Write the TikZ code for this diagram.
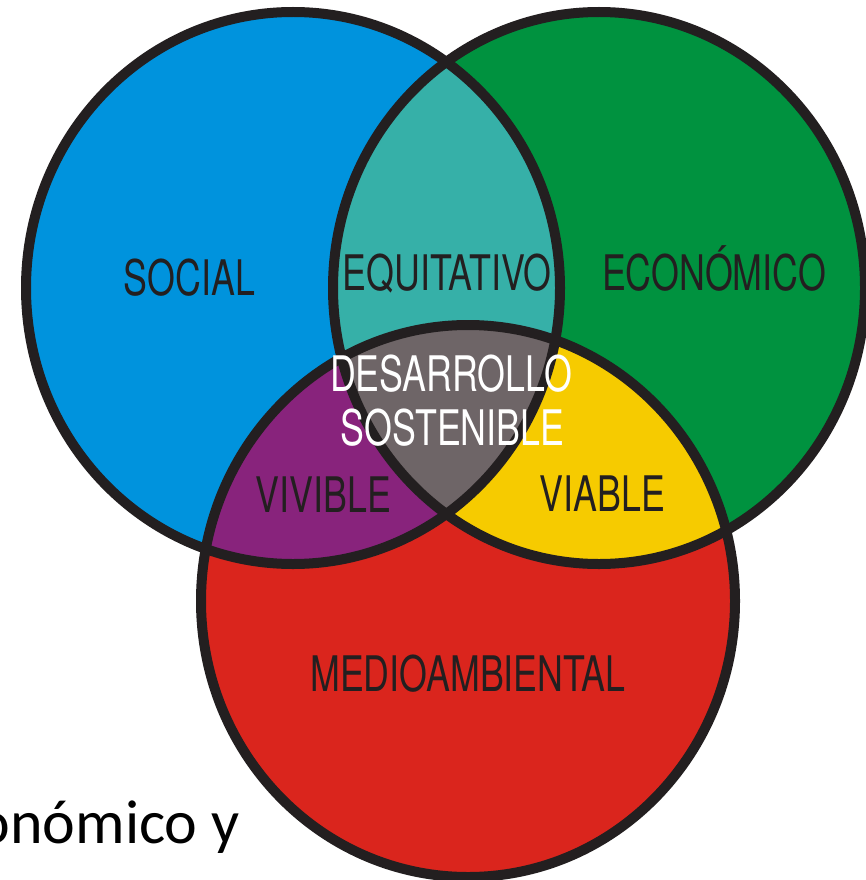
\documentclass[tikz,border=0pt]{standalone}
\usepackage{fontspec}
\setmainfont{TeX Gyre Heros}
\newfontfamily\bodyfont{Carlito}
\definecolor{cblue}{HTML}{0093DD}
\definecolor{cgreen}{HTML}{00923F}
\definecolor{cred}{HTML}{DA251D}
\definecolor{cteal}{HTML}{36B0A8}
\definecolor{cpurple}{HTML}{88237C}
\definecolor{cyellow}{HTML}{F6CB00}
\definecolor{cgray}{HTML}{6E6567}
\definecolor{cink}{HTML}{231F20}
\tikzset{
  lbl/.style={anchor=base, inner sep=0pt, text=cink, font=\fontsize{49}{50}\selectfont},
  wlbl/.style={lbl, text=white},
  ring/.style={draw=cink, line width=10pt}
}
\newcommand{\cond}[1]{\scalebox{0.73}[1]{#1}}
\begin{document}
\begin{tikzpicture}[x=1pt,y=-1pt]
\useasboundingbox (0,0) rectangle (865,880);
\fill[white] (0,0) rectangle (865,880);
\def\Lc{(293,288) ellipse [x radius=267, y radius=276]}
\def\Rc{(599,288) ellipse [x radius=266, y radius=276]}
\def\Bc{(468,601) ellipse [x radius=267, y radius=276]}
\fill[cblue] \Lc;
\fill[cgreen] \Rc;
\fill[cred] \Bc;
\begin{scope}
  \clip \Lc;
  \fill[cteal] \Rc;
  \fill[cpurple] \Bc;
  \clip \Rc;
  \fill[cgray] \Bc;
\end{scope}
\begin{scope}
  \clip \Rc;
  \clip \Bc;
  \fill[cyellow] (0,0) rectangle (865,880);
  \clip \Lc;
  \fill[cgray] (0,0) rectangle (865,880);
\end{scope}
\draw[ring] \Lc;
\draw[ring] \Rc;
\draw[ring] \Bc;
\node[lbl] (social) at (189.5,295) {\cond{SOCIAL}};
\node[lbl] (equi) at (447,290) {\cond{EQUITATIVO}};
\node[lbl] (econ) at (714,290) {\cond{ECONÓMICO}};
\node[wlbl] (des) at (451,391) {\cond{DESARROLLO}};
\node[wlbl] (sos) at (452.5,445) {\cond{SOSTENIBLE}};
\node[lbl] (viv) at (323.5,512) {\cond{VIVIBLE}};
\node[lbl] (via) at (602.5,511) {\cond{VIABLE}};
\node[lbl] (medio) at (468,691) {\cond{MEDIOAMBIENTAL}};
\node[anchor=base east, inner sep=0pt, text=black, font=\bodyfont\fontsize{62}{64}\selectfont] (frag) at (240,843) {onómico y};
\end{tikzpicture}
\end{document}
